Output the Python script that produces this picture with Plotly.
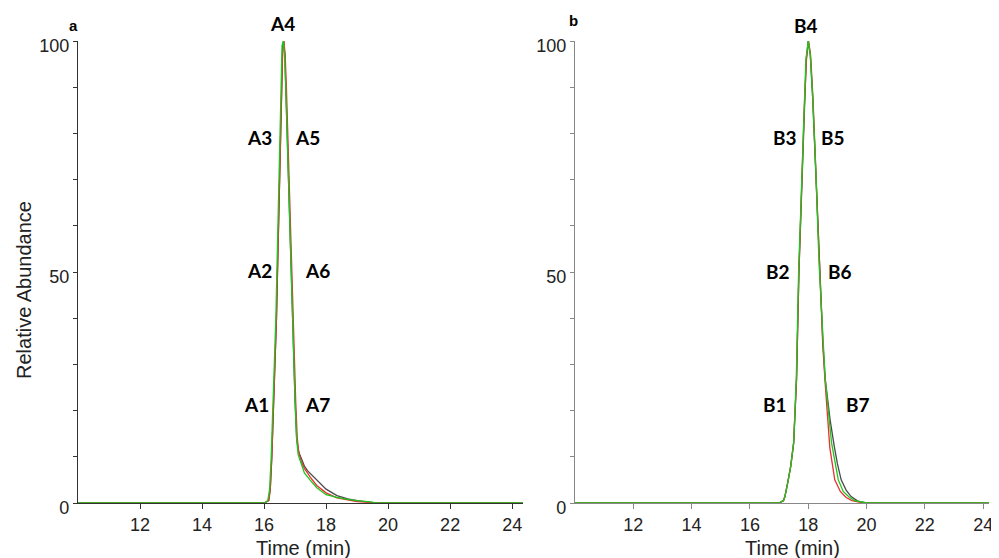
import plotly.graph_objects as go

# ---------------- Panel a data ----------------
a_time_1 = [10.0, 16.0, 16.15, 16.2, 16.25, 16.3, 16.35, 16.4, 16.45, 16.5, 16.55, 16.6, 16.63,
            16.67, 16.7, 16.75, 16.8, 16.85, 16.9, 16.95, 17.0, 17.05, 17.1, 17.15, 17.2, 17.3,
            17.4, 17.5, 17.7, 18.0, 18.35, 18.7, 19.0, 19.5, 20.0, 24.35]
a_abund_1 = [0, 0, 0.5, 3, 10, 20, 27, 40, 55, 72, 88, 99, 100,
             97, 90, 78, 67, 55, 44, 33, 22, 14, 11.5, 10.5, 9.5, 8,
             7, 6.3, 5, 3, 1.6, 0.9, 0.5, 0.1, 0, 0]

a_time_2 = [10.0, 16.0, 16.15, 16.2, 16.25, 16.3, 16.35, 16.4, 16.45, 16.5, 16.55, 16.6, 16.64,
            16.68, 16.72, 16.77, 16.82, 16.87, 16.92, 16.97, 17.02, 17.07, 17.12, 17.2, 17.3,
            17.4, 17.5, 17.7, 18.0, 18.35, 18.7, 19.0, 19.5, 20.0, 24.35]
a_abund_2 = [0, 0, 0.5, 3, 10, 20, 27, 40, 55, 72, 88, 98, 100,
             97, 90, 78, 67, 55, 44, 33, 22, 14, 11, 9, 7.5,
             6.5, 5.5, 3.8, 2.2, 1.1, 0.6, 0.3, 0.1, 0, 0]

a_time_3 = [10.0, 16.0, 16.12, 16.18, 16.23, 16.28, 16.33, 16.38, 16.43, 16.48, 16.53, 16.58, 16.62,
            16.66, 16.7, 16.75, 16.8, 16.85, 16.9, 16.95, 17.0, 17.05, 17.1, 17.2, 17.3,
            17.48, 17.7, 18.0, 18.35, 18.7, 19.0, 19.5, 19.6, 24.35]
a_abund_3 = [0, 0, 0.5, 3, 10, 20, 27, 40, 55, 72, 88, 99, 100,
             97, 90, 78, 67, 55, 44, 33, 22, 14, 10.5, 8.5, 6.5,
             5, 3.3, 1.8, 1.2, 0.8, 0.5, 0.2, 0, 0]

# ---------------- Panel b data ----------------
b_time_1 = [10.0, 17.0, 17.15, 17.2, 17.3, 17.4, 17.5, 17.6, 17.68, 17.78, 17.85, 17.93, 18.0,
            18.07, 18.15, 18.25, 18.37, 18.5, 18.58, 18.75, 18.9, 19.0, 19.13, 19.3, 19.47,
            19.7, 20.0, 24.2]
b_abund_1 = [0, 0, 0.5, 1.4, 4.5, 8, 13, 27, 50, 70, 85, 96, 100,
             97, 88, 72, 52, 35, 27, 18, 12, 8.5, 5, 2.8, 1.4,
             0.4, 0, 0]

b_time_2 = [10.0, 17.0, 17.15, 17.2, 17.3, 17.4, 17.5, 17.6, 17.68, 17.78, 17.86, 17.94, 18.01,
            18.08, 18.16, 18.26, 18.38, 18.5, 18.58, 18.74, 18.91, 19.1, 19.3, 19.5, 19.9, 24.2]
b_abund_2 = [0, 0, 0.5, 1.4, 4.5, 8, 13, 27, 50, 70, 85, 96, 100,
             97, 88, 72, 52, 34, 26, 12, 5, 2.5, 1.2, 0.5, 0, 0]

b_time_3 = [10.0, 17.0, 17.14, 17.2, 17.3, 17.4, 17.5, 17.59, 17.67, 17.77, 17.84, 17.92, 18.0,
            18.07, 18.15, 18.26, 18.37, 18.5, 18.58, 18.8, 19.03, 19.2, 19.4, 19.6, 20.0, 24.2]
b_abund_3 = [0, 0, 0.5, 1.4, 4.5, 8, 13, 27, 50, 70, 85, 96, 100,
             97, 88, 72, 52, 35, 27, 13, 5, 2.5, 1.3, 0.5, 0, 0]

# ---------------- Labels ----------------
a_labels = ["A1", "A2", "A3", "A5", "A6", "A7"]
a_label_x = [15.77, 15.84, 15.84, 17.39, 17.71, 17.71]
a_label_y = [21.3, 50.3, 79.2, 79.2, 50.3, 21.3]
a_top_label = "A4"
a_top_x = 16.61
b_labels = ["B1", "B2", "B3", "B5", "B6", "B7"]
b_label_x = [16.87, 16.97, 17.21, 18.86, 19.09, 19.71]
b_label_y = [21.3, 50.1, 79.2, 79.2, 50.1, 21.3]
b_top_label = "B4"
b_top_x = 17.93

x_ticks = [12, 14, 16, 18, 20, 22, 24]
y_ticks = [0, 50, 100]

colors = ["#4a4a4a", "#e8302e", "#1fc51f"]

# Page body has an 8px margin: figure pixel = screen pixel - 8
OFF = 8
W, H = 999 - OFF, 558 - OFF
TOP, BOTTOM = 41 - OFF, 503 - OFF   # plot area rows in figure pixels

def py(screen_y):
    return (BOTTOM - (screen_y - OFF)) / (BOTTOM - TOP)

def px(screen_x):
    return (screen_x - OFF) / W

fig = go.Figure()

panel_a = [(a_time_1, a_abund_1), (a_time_2, a_abund_2), (a_time_3, a_abund_3)]
panel_b = [(b_time_1, b_abund_1), (b_time_2, b_abund_2), (b_time_3, b_abund_3)]

for (t, v), c in zip(panel_a, colors):
    fig.add_trace(go.Scatter(x=t, y=v, mode="lines", line=dict(color=c, width=1.3),
                             xaxis="x", yaxis="y", showlegend=False))
for (t, v), c in zip(panel_b, colors):
    fig.add_trace(go.Scatter(x=t, y=v, mode="lines", line=dict(color=c, width=1.3),
                             xaxis="x2", yaxis="y2", showlegend=False))

label_font = dict(family="Lato, Open Sans, sans-serif", size=19, color="black")
C = dict(showarrow=False, xanchor="center", yanchor="middle")
annots = []
for txt, x, y in zip(a_labels, a_label_x, a_label_y):
    annots.append(dict(text="<b>%s</b>" % txt, x=x, y=y, xref="x", yref="y", font=label_font, **C))
for txt, x, y in zip(b_labels, b_label_x, b_label_y):
    annots.append(dict(text="<b>%s</b>" % txt, x=x, y=y, xref="x2", yref="y2", font=label_font, **C))
annots.append(dict(text="<b>%s</b>" % a_top_label, x=a_top_x, y=py(23), xref="x", yref="paper",
                   font=label_font, **C))
annots.append(dict(text="<b>%s</b>" % b_top_label, x=b_top_x, y=py(26), xref="x2", yref="paper",
                   font=label_font, **C))
panel_font = dict(family="Liberation Sans, Arial, sans-serif", size=15, color="black")
annots.append(dict(text="<b>a</b>", x=px(73), y=py(25), xref="paper", yref="paper",
                   font=panel_font, **C))
annots.append(dict(text="<b>b</b>", x=px(573), y=py(20), xref="paper", yref="paper",
                   font=panel_font, **C))
title_font = dict(family="Liberation Sans, Arial, sans-serif", size=20, color="#222")
annots.append(dict(text="Time (min)", x=px(303), y=py(548), xref="paper", yref="paper",
                   font=title_font, **C))
annots.append(dict(text="Time (min)", x=px(792), y=py(548), xref="paper", yref="paper",
                   font=title_font, **C))
annots.append(dict(text="Relative Abundance", x=px(24), y=py(290), xref="paper", yref="paper",
                   textangle=-90, font=title_font, **C))

tick_font = dict(family="Liberation Sans, Arial, sans-serif", size=18, color="#222")

def xaxis(domain, rng, color, anchor):
    return dict(domain=domain, range=rng, tickvals=x_ticks, ticks="outside", ticklen=5,
                tickcolor=color, linecolor=color, showline=True, linewidth=1.2,
                showgrid=False, zeroline=False, tickfont=tick_font, anchor=anchor,
                automargin=False)

def yaxis(color, anchor):
    return dict(domain=[0, 1], range=[0, 100], tickvals=y_ticks, ticks="outside", ticklen=4,
                tickcolor=color, linecolor=color, showline=True, linewidth=1.2,
                showgrid=False, zeroline=False, tickfont=tick_font, anchor=anchor,
                automargin=False, ticklabelstandoff=0, ticklabelshift=5,
                minor=dict(dtick=10, ticks="outside", ticklen=4, tickcolor=color, showgrid=False))

fig.update_layout(
    width=W, height=H,
    margin=dict(l=0, r=0, t=TOP, b=H - BOTTOM, autoexpand=False),
    paper_bgcolor="white", plot_bgcolor="white",
    xaxis=xaxis([px(78), px(523)], [10, 24.35], "#333", "y"),
    yaxis=yaxis("#333", "x"),
    xaxis2=xaxis([px(575), px(989)], [10, 24.2], "#888", "y2"),
    yaxis2=yaxis("#888", "x2"),
    annotations=annots,
)

fig.write_html("out.html")
